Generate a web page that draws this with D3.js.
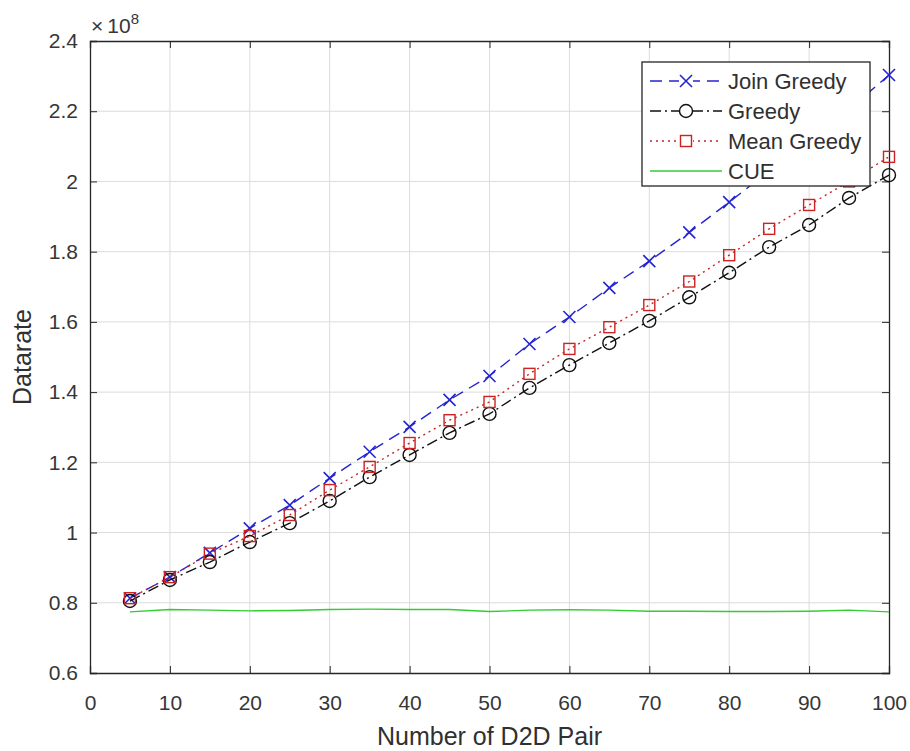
<!DOCTYPE html>
<html>
<head>
<meta charset="utf-8">
<script src="https://cdn.jsdelivr.net/npm/d3@7"></script>
<style>
  html, body { margin: 0; padding: 0; background: #fff; overflow: hidden; }
  svg { display: block; }
  .grid line { stroke: #dcdcdc; }
</style>
</head>
<body>
<div id="chart"></div>
<script>
// data (values in units of 1e8)
const pairs = [5, 10, 15, 20, 25, 30, 35, 40, 45, 50, 55, 60, 65, 70, 75, 80, 85, 90, 95, 100];
const joinGreedy = [0.813, 0.873, 0.942, 1.012, 1.078, 1.155, 1.23, 1.301, 1.378, 1.446, 1.537, 1.614, 1.697, 1.773, 1.855, 1.941, 2.03, 2.115, 2.205, 2.303];
const greedy = [0.805, 0.865, 0.916, 0.973, 1.027, 1.09, 1.158, 1.221, 1.284, 1.338, 1.412, 1.477, 1.54, 1.603, 1.67, 1.74, 1.813, 1.876, 1.953, 2.018];
const meanGreedy = [0.813, 0.873, 0.94, 0.99, 1.05, 1.121, 1.187, 1.255, 1.32, 1.372, 1.452, 1.523, 1.585, 1.648, 1.715, 1.79, 1.865, 1.933, 2.0, 2.07];
const cue = [0.774, 0.781, 0.779, 0.777, 0.778, 0.781, 0.782, 0.781, 0.781, 0.775, 0.779, 0.78, 0.779, 0.776, 0.776, 0.775, 0.775, 0.776, 0.779, 0.774];
const xTicks = [0, 10, 20, 30, 40, 50, 60, 70, 80, 90, 100];
const yTicks = [0.6, 0.8, 1, 1.2, 1.4, 1.6, 1.8, 2, 2.2, 2.4];

const width = 910, height = 751;
const margin = { left: 90, top: 41, right: 21, bottom: 78 };
const innerWidth = width - margin.left - margin.right;
const innerHeight = height - margin.top - margin.bottom;
const font = "'Liberation Sans', Arial, Helvetica, sans-serif";

const svg = d3.select("#chart")
    .append("svg")
    .attr("width", width)
    .attr("height", height)
    .attr("font-family", font);

const inner = svg.append("g")
    .attr("transform", `translate(${margin.left},${margin.top})`);

const x = d3.scaleLinear().domain([0, 100]).range([0, innerWidth]);
const y = d3.scaleLinear().domain([0.6, 2.4]).range([innerHeight, 0]);

// grid
inner.append("g").attr("class", "grid")
    .selectAll("line")
    .data(xTicks.slice(1, -1))
    .join("line")
    .attr("x1", d => x(d)).attr("x2", d => x(d))
    .attr("y1", 0).attr("y2", innerHeight);

inner.append("g").attr("class", "grid")
    .selectAll("line")
    .data(yTicks.slice(1, -1))
    .join("line")
    .attr("y1", d => y(d)).attr("y2", d => y(d))
    .attr("x1", 0).attr("x2", innerWidth);

// axes (ticks point inward, box on)
const fmt = d => d3.format("~g")(d);
inner.append("g").attr("class", "axis")
    .attr("transform", `translate(0,${innerHeight})`)
    .call(d3.axisBottom(x).tickValues(xTicks).tickSize(-7).tickPadding(22).tickFormat(fmt));
inner.append("g").attr("class", "axis")
    .call(d3.axisLeft(y).tickValues(yTicks).tickSize(-7).tickPadding(12).tickFormat(fmt));
inner.append("g").attr("class", "axis box")
    .call(d3.axisTop(x).tickValues(xTicks).tickSize(-7));
inner.append("g").attr("class", "axis box")
    .attr("transform", `translate(${innerWidth},0)`)
    .call(d3.axisRight(y).tickValues(yTicks).tickSize(-7));
inner.selectAll(".box text").remove();
inner.selectAll(".axis")
    .attr("font-family", font)
    .attr("font-size", 21);
inner.selectAll(".axis text").attr("fill", "#363636");
inner.selectAll(".axis path").attr("stroke", "#262626").attr("stroke-width", 1.3);
inner.selectAll(".axis line").attr("stroke", "#262626");

// series
const series = [
    { name: "Join Greedy", values: joinGreedy, color: "#2424d0", dash: "12,7", marker: "x" },
    { name: "Greedy", values: greedy, color: "#111111", dash: "11,4,2,4", marker: "o" },
    { name: "Mean Greedy", values: meanGreedy, color: "#cc2222", dash: "2,4", marker: "s" },
    { name: "CUE", values: cue, color: "#33cc33", dash: null, marker: null }
];

const line = d3.line()
    .x((d, i) => x(pairs[i]))
    .y(d => y(d));

const drawMarker = (g, type, color) => {
    if (type === "x") {
        g.append("path").attr("d", "M-6,-6L6,6M-6,6L6,-6")
            .attr("stroke", color).attr("stroke-width", 1.6).attr("fill", "none");
    } else if (type === "o") {
        g.append("circle").attr("r", 6.5)
            .attr("stroke", color).attr("stroke-width", 1.4).attr("fill", "none");
    } else if (type === "s") {
        g.append("rect").attr("x", -5.5).attr("y", -5.5).attr("width", 11).attr("height", 11)
            .attr("stroke", color).attr("stroke-width", 1.4).attr("fill", "none");
    }
};

series.forEach(s => {
    inner.append("path")
        .datum(s.values)
        .attr("d", line)
        .attr("fill", "none")
        .attr("stroke", s.color)
        .attr("stroke-width", 1.4)
        .attr("stroke-dasharray", s.dash);
    if (s.marker) {
        s.values.forEach((v, i) => {
            const g = inner.append("g")
                .attr("transform", `translate(${x(pairs[i])},${y(v)})`);
            drawMarker(g, s.marker, s.color);
        });
    }
});

// exponent label
const expo = svg.append("text")
    .attr("x", margin.left + 1)
    .attr("y", 33)
    .attr("font-size", 21)
    .attr("fill", "#363636");
expo.append("tspan").text("\u00d7");
expo.append("tspan").attr("dx", 4).text("10");
expo.append("tspan").attr("dy", -9).attr("font-size", 15).text("8");

// axis labels
svg.append("text")
    .attr("x", margin.left + innerWidth / 2)
    .attr("y", 745)
    .attr("text-anchor", "middle")
    .attr("font-size", 25)
    .attr("fill", "#303030")
    .text("Number of D2D Pair");

svg.append("text")
    .attr("transform", "rotate(-90)")
    .attr("x", -(margin.top + innerHeight / 2))
    .attr("y", 31)
    .attr("text-anchor", "middle")
    .attr("font-size", 25)
    .attr("fill", "#303030")
    .text("Datarate");

// legend
const legend = svg.append("g")
    .attr("transform", "translate(642,62)");

legend.append("rect")
    .attr("width", 228)
    .attr("height", 124)
    .attr("fill", "#fff")
    .attr("stroke", "#262626")
    .attr("stroke-width", 1.3);

series.forEach((s, i) => {
    const row = legend.append("g")
        .attr("transform", `translate(0,${19 + i * 30})`);
    row.append("line")
        .attr("x1", 8).attr("x2", 80)
        .attr("stroke", s.color)
        .attr("stroke-width", 1.4)
        .attr("stroke-dasharray", s.dash);
    if (s.marker) {
        const g = row.append("g").attr("transform", "translate(44,0)");
        g.append("rect").attr("x", -7).attr("y", -7).attr("width", 14).attr("height", 14).attr("fill", "#fff");
        drawMarker(g, s.marker, s.color);
    }
    row.append("text")
        .attr("x", 86)
        .attr("y", 8)
        .attr("font-size", 22)
        .attr("fill", "#303030")
        .text(s.name);
});
</script>
</body>
</html>
